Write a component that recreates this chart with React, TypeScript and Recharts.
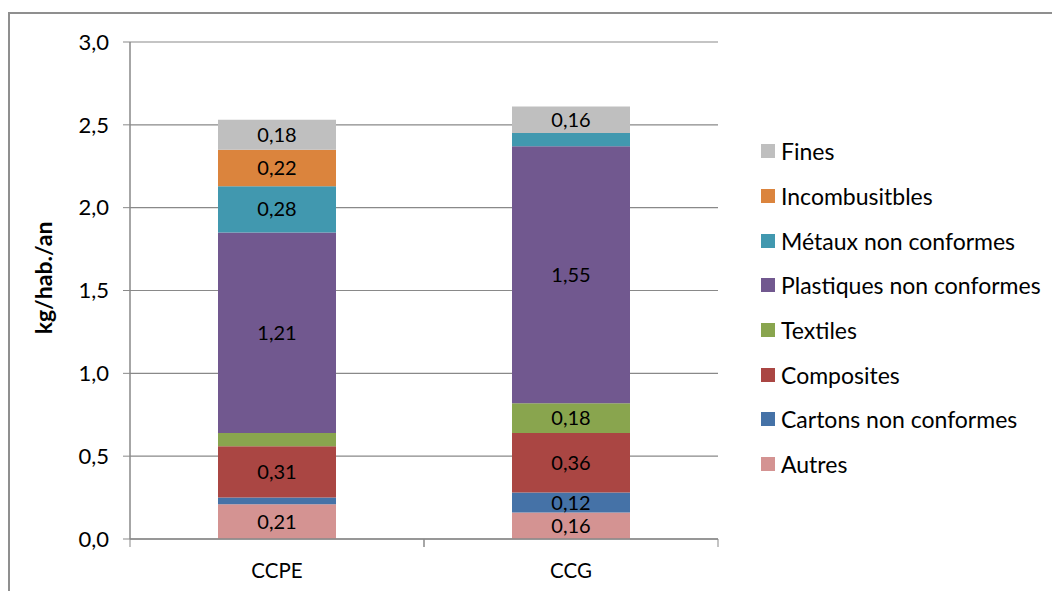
import React from 'react'
import { BarChart, Bar, XAxis, YAxis, CartesianGrid, Legend, LabelList } from 'recharts'

const sites = ['CCPE', 'CCG']

// kg/hab./an per site, same order as `sites`
const autres = [0.21, 0.16]
const cartons = [0.04, 0.12]
const composites = [0.31, 0.36]
const textiles = [0.08, 0.18]
const plastiques = [1.21, 1.55]
const metaux = [0.28, 0.08]
const incombustibles = [0.22, 0]
const fines = [0.18, 0.16]

const yTicks = [0, 0.5, 1, 1.5, 2, 2.5, 3]

const SERIES = [
  { key: 'autres', name: 'Autres', values: autres, color: '#D49392' },
  { key: 'cartons', name: 'Cartons non conformes', values: cartons, color: '#4572A7' },
  { key: 'composites', name: 'Composites', values: composites, color: '#AA4643' },
  { key: 'textiles', name: 'Textiles', values: textiles, color: '#89A54E' },
  { key: 'plastiques', name: 'Plastiques non conformes', values: plastiques, color: '#71588F' },
  { key: 'metaux', name: 'Métaux non conformes', values: metaux, color: '#4198AF' },
  { key: 'incombustibles', name: 'Incombusitbles', values: incombustibles, color: '#DB843D' },
  { key: 'fines', name: 'Fines', values: fines, color: '#BFBFBF' },
]

const data = sites.map((site, i) => {
  const row: any = { site }
  SERIES.forEach(s => { row[s.key] = s.values[i] })
  return row
})

const FONT = 'Lato, "Open Sans", sans-serif'
const AXIS = '#898989'

const fmt = (v: number) => v.toFixed(2).replace('.', ',')

// small slices stay unlabeled
const labelText = (v: any) => (typeof v === 'number' && v >= 0.1 ? fmt(v) : '')

const CategoryTick = ({ x, y, payload }: any) => {
  const half = payload.offset || 0
  return (
    <g>
      <line x1={x - half} x2={x - half} y1={y - 8} y2={y} stroke={AXIS} />
      <line x1={x + half} x2={x + half} y1={y - 8} y2={y} stroke={AXIS} />
      <text x={x} y={y + 31} textAnchor="middle" fontSize={20.5} fill="#000" fontFamily={FONT}>
        {payload.value}
      </text>
    </g>
  )
}

const SideLegend = () => (
  <div style={{ fontFamily: FONT, fontSize: 23, color: '#000' }}>
    {[...SERIES].reverse().map(s => (
      <div key={s.key} style={{ display: 'flex', alignItems: 'center', height: 44.7 }}>
        <span style={{ width: 14, height: 14, background: s.color, marginRight: 6, display: 'inline-block' }} />
        <span>{s.name}</span>
      </div>
    ))}
  </div>
)

export default function App() {
  return (
    <div style={{ position: 'fixed', left: 0, top: 0, width: 1052, height: 591, background: '#fff', overflow: 'hidden' }}>
      <div style={{ position: 'absolute', left: 8, top: 12, width: 1200, height: 800, border: '2px solid #8f8f8f' }} />
      <div style={{ position: 'absolute', left: 0, top: 0 }}>
        <BarChart width={1052} height={591} data={data} margin={{ top: 42, right: 334, bottom: 0, left: 0 }}>
          <CartesianGrid vertical={false} stroke={AXIS} strokeWidth={1.2} />
          <XAxis
            dataKey="site"
            height={52}
            axisLine={{ stroke: AXIS, strokeWidth: 1.5 }}
            tickLine={false}
            tick={<CategoryTick />}
            interval={0}
          />
          <YAxis
            width={130}
            domain={[0, 3]}
            ticks={yTicks}
            tickFormatter={(v: number) => v.toFixed(1).replace('.', ',')}
            axisLine={{ stroke: AXIS, strokeWidth: 1.5 }}
            tickLine={{ stroke: AXIS }}
            tickSize={7}
            tickMargin={14}
            tick={{ fontSize: 22, fill: '#000', fontFamily: FONT }}
            label={{
              content: () => (
                <text
                  x={43}
                  y={278}
                  transform="rotate(-90 43 278)"
                  textAnchor="middle"
                  dominantBaseline="central"
                  fontSize={23}
                  fontWeight="bold"
                  fontFamily={FONT}
                  fill="#000"
                >
                  kg/hab./an
                </text>
              ),
            }}
          />
          <Legend
            layout="vertical"
            align="center"
            verticalAlign="middle"
            content={<SideLegend />}
            wrapperStyle={{ left: 761, top: 129, width: 291 }}
          />
          {SERIES.map(s => (
            <Bar key={s.key} dataKey={s.key} name={s.name} stackId="a" fill={s.color} barSize={118} isAnimationActive={false}>
              <LabelList
                dataKey={s.key}
                position="center"
                formatter={labelText}
                fill="#000"
                fontSize={20}
                fontFamily={FONT}
              />
            </Bar>
          ))}
        </BarChart>
      </div>
    </div>
  )
}
